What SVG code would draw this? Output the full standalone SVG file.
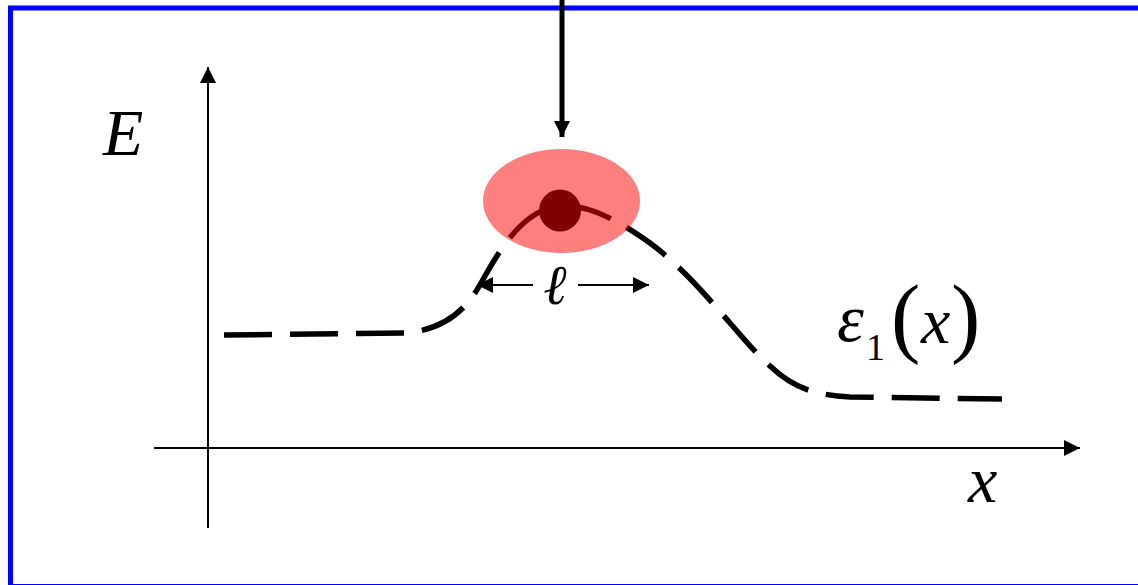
<svg xmlns="http://www.w3.org/2000/svg" width="1138" height="585" viewBox="0 0 1138 585">
<style>
text{font-family:'Liberation Serif','Times New Roman','DejaVu Serif',serif;fill:#000}
.it{font-style:italic}
.ax{stroke:#000;stroke-width:2;fill:none}
</style>
<defs>
<marker id="ah" viewBox="0 0 16 16" refX="16" refY="8" markerWidth="16" markerHeight="16" markerUnits="userSpaceOnUse" orient="auto">
<path d="M0,0 L16,8 L0,16 Z" fill="#000"/>
</marker>
</defs>
<rect x="0" y="0" width="1138" height="585" fill="#fff"/>
<g id="frame">
<rect x="10.5" y="8" width="1135" height="578.5" fill="none" stroke="#0000ff" stroke-width="5"/>
</g>
<g id="axes">
<line class="ax" x1="208" y1="528" x2="208" y2="67" marker-end="url(#ah)"/>
<line class="ax" x1="154" y1="448" x2="1080" y2="448" marker-end="url(#ah)"/>
<text class="it" x="103" y="155" font-size="66">E</text>
<text class="it" x="968" y="502" font-size="66">x</text>
</g>
<g id="curve">
<path d="M224 335 L405 333 C440 330,460 315,475 293 C490 270,515 210,560 206 C590 204,620 222,650 243 C700 280,740 340,770 366 C790 385,810 395,850 397 L1002 399" fill="none" stroke="#000" stroke-width="5.5" stroke-dasharray="48 18"/>
<text class="it" x="837" y="341" font-size="68">ε</text>
<text x="866" y="360" font-size="38">1</text>
<text x="891" y="346" font-size="88">(</text>
<text class="it" x="921" y="343" font-size="66">x</text>
<text x="951" y="346" font-size="88">)</text>
</g>
<g id="particle">
<circle cx="560" cy="210.5" r="21" fill="#000"/>
<ellipse cx="561.5" cy="201" rx="78.5" ry="52" fill="#ff0000" fill-opacity="0.5"/>
</g>
<g id="connectors">
<line x1="533" y1="285" x2="477" y2="285" stroke="#000" stroke-width="2" marker-end="url(#ah)"/>
<line x1="578" y1="285" x2="649" y2="285" stroke="#000" stroke-width="2" marker-end="url(#ah)"/>
<line x1="562" y1="0" x2="562" y2="137" stroke="#000" stroke-width="5" marker-end="url(#ah)"/>
</g>
<g id="width-label">
<text class="it" x="555" y="304" font-size="56" text-anchor="middle">ℓ</text>
</g>
</svg>
